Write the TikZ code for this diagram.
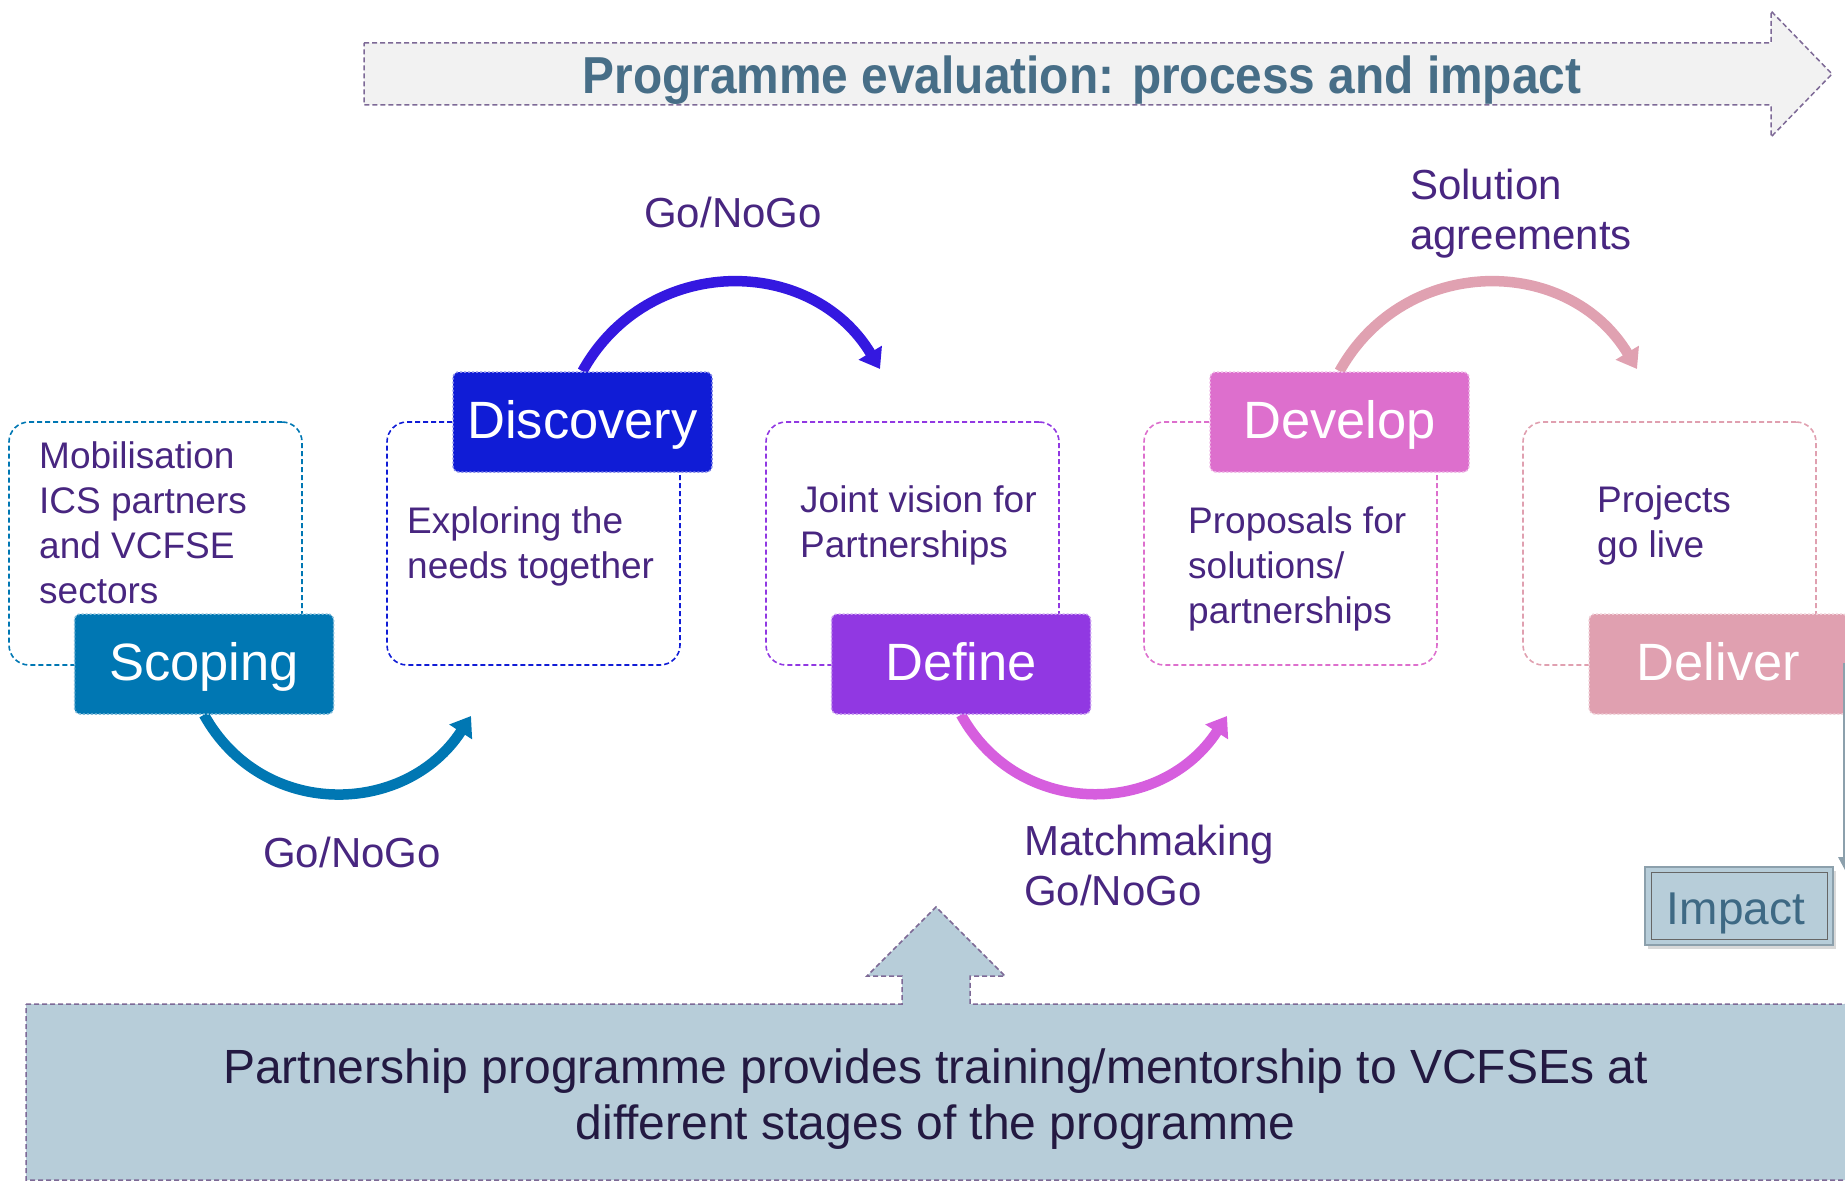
\documentclass[tikz,border=0pt]{standalone}
\usepackage{fontspec}
\setmainfont{Liberation Sans}
\usetikzlibrary{arrows.meta,calc}
\pgfdeclarelayer{back}
\pgfsetlayers{back,main}
\definecolor{framepurple}{RGB}{125,105,150}
\definecolor{titleblue}{RGB}{71,110,135}
\definecolor{arrowgray}{RGB}{242,242,242}
\definecolor{paleblue}{RGB}{183,205,217}
\definecolor{bodytext}{RGB}{72,38,128}
\definecolor{darktext}{RGB}{35,25,65}
\definecolor{cscope}{RGB}{0,119,179}
\definecolor{cdisc}{RGB}{16,28,214}
\definecolor{cdiscarrow}{RGB}{52,24,224}
\definecolor{cdef}{RGB}{145,56,226}
\definecolor{cdefarrow}{RGB}{214,94,222}
\definecolor{cdev}{RGB}{221,111,205}
\definecolor{cdevarrow}{RGB}{224,161,177}
\definecolor{cdel}{RGB}{224,160,176}
\definecolor{impacttext}{RGB}{62,105,132}
\definecolor{impactedge}{RGB}{140,160,172}
\begin{document}
\begin{tikzpicture}[x=1pt,y=1pt,
  stagebox/.style={draw=#1!50!white, fill=#1, dash pattern=on 2pt off 2pt, line width=1.5pt, rounded corners=6pt, text=white, font=\fontsize{52.5}{60}\selectfont, inner sep=0pt, minimum width=259pt, minimum height=100pt, text height=40pt, text depth=8pt},
  stageframe/.style={draw=#1, dash pattern=on 5pt off 3pt, line width=1.6pt, rounded corners=20pt, minimum width=293pt, minimum height=243pt, inner sep=0pt},
  bodytxt/.style={text=bodytext, font=\fontsize{37}{45}\selectfont, align=left, inner sep=0pt, anchor=base west},
  labeltxt/.style={text=bodytext, font=\fontsize{42}{50}\selectfont, align=left, inner sep=0pt},
  flowarrow/.style={draw=#1, line width=10.5pt, -{Triangle[width=26pt,length=19pt]}},
  outlinepath/.style={draw=framepurple, dash pattern=on 5pt off 3pt, line width=1.5pt},
]
\useasboundingbox (0,0) rectangle (1845,-1182);
\clip (0,0) rectangle (1845,-1182);

% top process arrow
\path[outlinepath, fill=arrowgray] (364,-43) -- (1771,-43) -- (1771,-11) -- (1832,-74) -- (1771,-137) -- (1771,-105) -- (364,-105) -- cycle;
\node[anchor=base, inner sep=0pt, text=titleblue, font=\fontsize{52}{60}\selectfont\bfseries] (title) at (1082,-94) {\scalebox{0.92}[1]{Programme evaluation: process and impact}};

% dashed frames
\node[stageframe=cscope] (scopingframe) at (155.5,-543.5) {};
\node[stageframe=cdisc] (discoveryframe) at (533.5,-543.5) {};
\node[stageframe=cdef] (defineframe) at (912.5,-543.5) {};
\node[stageframe=cdev] (developframe) at (1290.5,-543.5) {};
\node[stageframe=cdel] (deliverframe) at (1669.5,-543.5) {};

% stage boxes
\node[stagebox=cscope] (scoping) at (204,-664) {Scoping};
\node[stagebox=cdisc] (discovery) at (582.5,-422) {Discovery};
\node[stagebox=cdef] (define) at (961,-664) {Define};
\node[stagebox=cdev] (develop) at (1339.5,-422) {Develop};
\node[stagebox=cdel] (deliver) at (1718.5,-664) {Deliver};

% body texts (base = baseline of last line)
\node[bodytxt] (scopingtext) at (39,-603) {Mobilisation\\ICS partners\\and VCFSE\\sectors};
\node[bodytxt] (discoverytext) at (407,-578) {Exploring the\\needs together};
\node[bodytxt] (definetext) at (800,-557) {Joint vision for\\Partnerships};
\node[bodytxt] (developtext) at (1188,-623) {Proposals for\\solutions/\\partnerships};
\node[bodytxt] (delivertext) at (1597,-557) {Projects\\go live};

% labels
\node[labeltxt, anchor=base] (gonogo1) at (352,-867) {Go/NoGo};
\node[labeltxt, anchor=base] (gonogo2) at (733,-228) {Go/NoGo};
\node[labeltxt, anchor=base west] (matchlabel) at (1024,-905) {Matchmaking\\Go/NoGo};
\node[labeltxt, anchor=base west] (solutionlabel) at (1410,-250) {Solution\\agreements};

% arrow ends
\coordinate (a1end) at (471,-716);
\coordinate (a2end) at (880,-369);
\coordinate (a3end) at (1227,-716);
\coordinate (a4end) at (1637,-369);
\begin{pgfonlayer}{back}
\draw[flowarrow=cscope] (scoping.south) to[out=-61,in=-123,looseness=1.15] (a1end);
\draw[flowarrow=cdiscarrow] (discovery.north) to[out=61,in=121,looseness=1.15] (a2end);
\draw[flowarrow=cdefarrow] (define.south) to[out=-61,in=-123,looseness=1.15] (a3end);
\draw[flowarrow=cdevarrow] (develop.north) to[out=61,in=121,looseness=1.15] (a4end);
\end{pgfonlayer}

% bottom programme box with up arrow
\path[outlinepath, fill=paleblue] (26,-1004) -- (902,-1004) -- (902,-976) -- (867,-976) -- (936,-907) -- (1005,-976) -- (970,-976) -- (970,-1004) -- (1860,-1004) -- (1860,-1180) -- (26,-1180) -- cycle;
\node[anchor=base, align=center, inner sep=0pt, text=darktext, font=\fontsize{48}{56}\selectfont] (programmetext) at (935.5,-1139) {Partnership programme provides training/mentorship to VCFSEs at\\different stages of the programme};

% right edge sliver
\fill[impactedge] (1842.5,-663) rectangle (1846,-858);
\fill[impactedge] (1838,-857) -- (1846,-857) -- (1846,-872) -- cycle;

% impact box
\fill[black!15] (1648,-871) rectangle (1836,-949);
\node[draw=impactedge, line width=1.2pt, fill=paleblue, minimum width=188pt, minimum height=78pt, inner sep=0pt] (impact) at (1739,-906) {};
\draw[draw=black!60, line width=1.2pt] ($(impact.north west)+(7,-6)$) rectangle ($(impact.south east)+(-6,6)$);
\node[anchor=base, inner sep=0pt, text=impacttext, font=\fontsize{46}{50}\selectfont] (impactlabel) at (1736,-924) {Impact};
\end{tikzpicture}
\end{document}
